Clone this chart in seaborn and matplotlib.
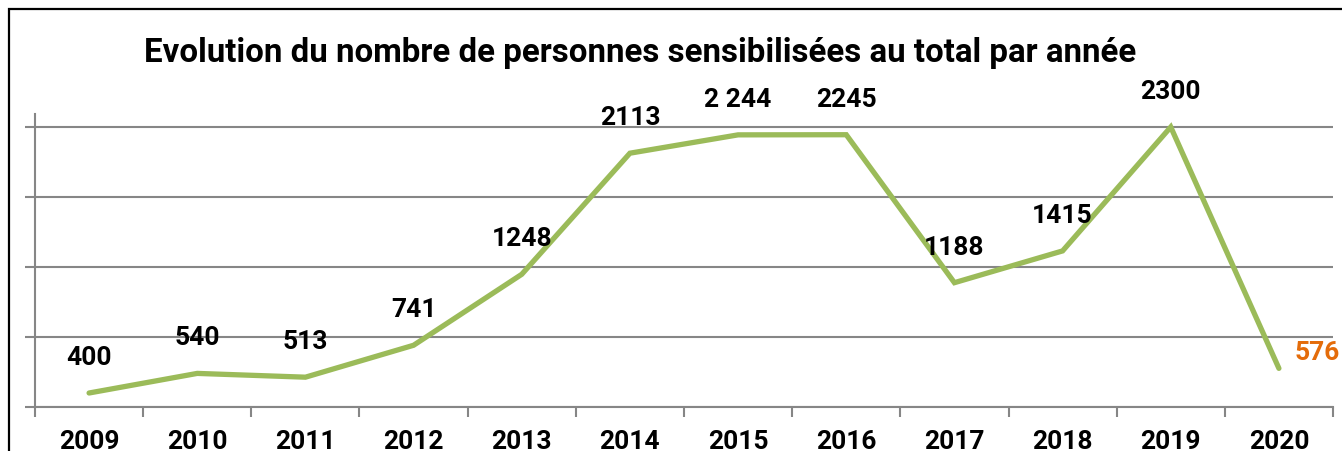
import seaborn as sns
import pandas as pd
import numpy as np
import matplotlib.pyplot as plt
from matplotlib.patches import Rectangle

# data
years = ["2009", "2010", "2011", "2012", "2013", "2014",
         "2015", "2016", "2017", "2018", "2019", "2020"]
personnes = [400, 540, 513, 741, 1248, 2113, 2244, 2245, 1188, 1415, 2300, 576]
point_labels = ["400", "540", "513", "741", "1248", "2113",
                "2 244", "2245", "1188", "1415", "2300", "576"]

df = pd.DataFrame({"pos": np.arange(len(years)), "annee": years, "personnes": personnes})

sns.set_theme(style="white")
plt.rcParams['font.family'] = ['Roboto', 'DejaVu Sans']

fig = plt.figure(figsize=(13.42, 4.52), dpi=100)
ax = fig.add_axes([35 / 1342, 1 - 408 / 452, (1333 - 35) / 1342, (408 - 115) / 452])

green = "#9BBB59"
grey = "#868686"
orange = "#E46C0A"

sns.lineplot(data=df, x="pos", y="personnes", ax=ax, color=green,
             linewidth=3.8, solid_capstyle="round", solid_joinstyle="miter")

ax.set_xlim(-0.5, len(years) - 0.5)
ax.set_ylim(300, 2393)
ax.set_yticks([300, 800, 1300, 1800, 2300])
ax.set_yticklabels([])
ax.grid(axis="y", color=grey, linewidth=1.5)
ax.tick_params(axis="y", which="major", left=True, length=7, width=1.5, color=grey)

# category axis: labels at centres, ticks on boundaries
ax.set_xticks(df["pos"])
ax.set_xticklabels(years, fontsize=19, fontweight="bold", color="black")
ax.tick_params(axis="x", which="major", bottom=False, pad=10)
ax.set_xticks(np.arange(-0.5, len(years)), minor=True)
ax.tick_params(axis="x", which="minor", bottom=True, length=7, width=1.5, color=grey)
ax.set_xlabel("")
ax.set_ylabel("")

for s in ["top", "right"]:
    ax.spines[s].set_visible(False)
for s in ["left", "bottom"]:
    ax.spines[s].set_color(grey)
    ax.spines[s].set_linewidth(1.5)

for i, (v, lab) in enumerate(zip(personnes, point_labels)):
    if i == len(personnes) - 1:
        ax.annotate(lab, (i, v), xytext=(11, 12), textcoords="offset points",
                    ha="left", va="center", fontsize=19, fontweight="bold", color=orange,
                    annotation_clip=False)
    else:
        ax.annotate(lab, (i, v), xytext=(0, 26), textcoords="offset points",
                    ha="center", va="center", fontsize=19, fontweight="bold", color="black")

fig.text(640 / 1342, 1 - 53 / 452, "Evolution du nombre de personnes sensibilisées au total par année",
         ha="center", va="center", fontsize=23.8, fontweight="bold", color="black")

# chart frame
fig.patches.append(Rectangle((9 / 1342, -0.2), 1.2, 1 - 10 / 452 + 0.2, transform=fig.transFigure,
                             fill=False, edgecolor="black", linewidth=1.6))

fig.savefig("out.png", dpi=100)
